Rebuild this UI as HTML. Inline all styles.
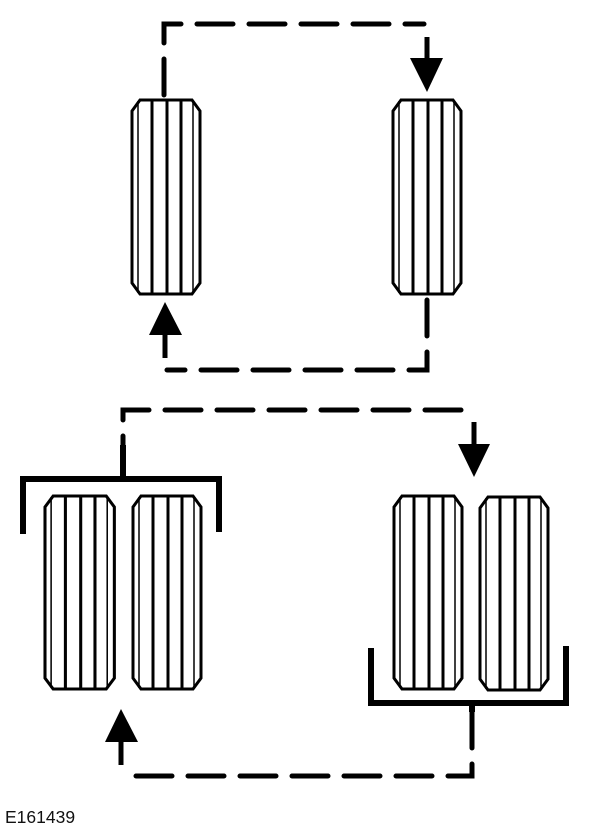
<!DOCTYPE html>
<html><head><meta charset="utf-8"><style>
html,body{margin:0;padding:0;background:#fff;}
svg{display:block;}
</style></head><body>
<svg width="600" height="830" viewBox="0 0 600 830" xmlns="http://www.w3.org/2000/svg">
<defs>
<g id="tire">
  <path d="M8,0 H60 L68,11 V183 L60,194 H8 L0,183 V11 Z" fill="#fff" stroke="#000" stroke-width="3"/>
  <line x1="6" y1="1" x2="6" y2="193" stroke="#000" stroke-width="1.5"/>
  <line x1="20" y1="1" x2="20" y2="193" stroke="#000" stroke-width="3"/>
  <line x1="35" y1="1" x2="35" y2="193" stroke="#000" stroke-width="3"/>
  <line x1="49" y1="1" x2="49" y2="193" stroke="#000" stroke-width="3"/>
  <line x1="61" y1="1" x2="61" y2="193" stroke="#000" stroke-width="1.5"/>
</g>
</defs>
<g fill="none" stroke="#000" stroke-width="5" stroke-linecap="round" stroke-dasharray="36 16">
  <path d="M164,95 V24 H424"/>
  <path d="M427,300 V370 H167"/>
  <path d="M123,472 V410 H472"/>
  <path d="M472,712 V776 H124"/>
</g>
<g stroke="#000" stroke-width="5">
  <line x1="427" y1="37" x2="427" y2="62"/>
  <line x1="165" y1="330" x2="165" y2="358"/>
  <line x1="474" y1="422" x2="474" y2="448"/>
  <line x1="121" y1="738" x2="121" y2="765"/>
</g>
<g fill="#000">
  <polygon points="410,58 443,58 427,92"/>
  <polygon points="149,335 182,335 165,302"/>
  <polygon points="458,444 490,444 474,477"/>
  <polygon points="105,742 138,742 121,709"/>
</g>
<use href="#tire" transform="translate(132,100)"/>
<use href="#tire" transform="translate(393,100)"/>
<use href="#tire" transform="translate(45,496) scale(1.02,0.995)"/>
<use href="#tire" transform="translate(133,496) scale(1,0.995)"/>
<use href="#tire" transform="translate(394,496) scale(1,0.995)"/>
<use href="#tire" transform="translate(480,497) scale(1,0.995)"/>
<g fill="none" stroke="#000" stroke-width="6">
  <path d="M23,534 V479 H219 V532"/>
  <line x1="123" y1="445" x2="123" y2="479"/>
  <path d="M371,648 V703 H566 V646"/>
  <line x1="472" y1="703" x2="472" y2="712"/>
</g>
<text x="5" y="823" font-family="Liberation Sans, sans-serif" font-size="17.5" fill="#111">E161439</text>
</svg>
</body></html>
